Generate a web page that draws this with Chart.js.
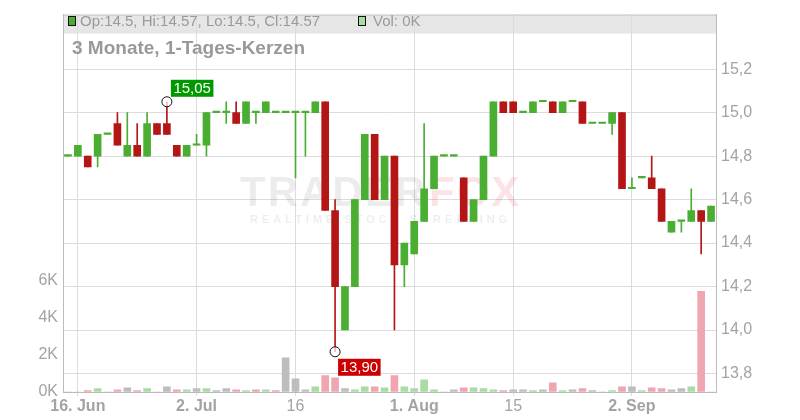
<!DOCTYPE html>
<html lang="de">
<head>
<meta charset="UTF-8">
<script src="https://cdn.jsdelivr.net/npm/chart.js"></script>
<style>
  body { margin: 0; background: #fff; }
  #wrap { width: 800px; height: 420px; position: relative; }
</style>
</head>
<body>
<div id="wrap"><canvas id="chart"></canvas></div>
<script>
// trading days, 13.06. - 12.09.
const days = ['13.06',
  '16.06','17.06','18.06','19.06','20.06', '23.06','24.06','25.06','26.06','27.06',
  '30.06','01.07','02.07','03.07','04.07', '07.07','08.07','09.07','10.07','11.07',
  '14.07','15.07','16.07','17.07','18.07', '21.07','22.07','23.07','24.07','25.07',
  '28.07','29.07','30.07','31.07','01.08', '04.08','05.08','06.08','07.08','08.08',
  '11.08','12.08','13.08','14.08','15.08', '18.08','19.08','20.08','21.08','22.08',
  '25.08','26.08','27.08','28.08','29.08', '01.09','02.09','03.09','04.09','05.09',
  '08.09','09.09','10.09','11.09','12.09'];

const opens = [14.8,
  14.8,14.8,14.8,14.9,14.95, 14.8,14.85,14.8,14.95,14.95,
  14.85,14.8,14.85,14.85,15.0, 15.0,15.0,14.95,15.0,15.0,
  15.0,15.0,15.0,15.0,15.0, 15.05,14.55,14.0,14.2,14.6,
  14.9,14.6,14.8,14.3,14.35, 14.5,14.65,14.8,14.8,14.7,
  14.5,14.6,14.8,15.05,15.05, 15.0,15.0,15.05,15.05,15.0,
  15.05,15.05,14.95,14.95,14.95, 15.0,14.65,14.7,14.7,14.65,
  14.45,14.5,14.5,14.55,14.5];
const highs = [14.8,
  14.85,14.8,14.9,14.9,15.0, 15.0,14.95,15.0,14.95,15.05,
  14.85,14.85,14.9,15.0,15.0, 15.05,15.05,15.05,15.0,15.05,
  15.0,15.0,15.0,15.0,15.05, 15.05,14.6,14.2,14.6,14.9,
  14.9,14.8,14.8,14.4,14.5, 14.95,14.8,14.8,14.8,14.7,
  14.6,14.8,15.05,15.05,15.05, 15.0,15.05,15.05,15.05,15.05,
  15.05,15.05,14.95,14.95,15.0, 15.0,14.7,14.7,14.8,14.65,
  14.5,14.5,14.65,14.55,14.57];
const lows = [14.8,
  14.8,14.75,14.75,14.9,14.85, 14.8,14.8,14.8,14.9,14.9,
  14.8,14.8,14.85,14.8,15.0, 14.95,14.95,14.95,14.95,15.0,
  15.0,15.0,14.7,14.8,15.0, 14.55,13.9,14.0,14.2,14.6,
  14.6,14.6,14.0,14.2,14.35, 14.5,14.65,14.8,14.8,14.5,
  14.5,14.6,14.8,15.0,15.0, 15.0,15.0,15.05,15.0,15.0,
  15.05,14.95,14.95,14.95,14.9, 14.65,14.65,14.7,14.65,14.5,
  14.45,14.45,14.5,14.35,14.5];
const closes = [14.8,
  14.85,14.75,14.9,14.9,14.85, 14.85,14.8,14.95,14.9,14.9,
  14.8,14.85,14.85,15.0,15.0, 15.0,14.95,15.05,15.0,15.05,
  15.0,15.0,15.0,15.0,15.05, 14.55,14.2,14.2,14.6,14.9,
  14.6,14.8,14.3,14.4,14.5, 14.65,14.8,14.8,14.8,14.5,
  14.6,14.8,15.05,15.0,15.0, 15.0,15.05,15.05,15.0,15.05,
  15.05,14.95,14.95,14.95,15.0, 14.65,14.65,14.7,14.65,14.5,
  14.5,14.5,14.55,14.5,14.57];
const volumes = [0,
  0,70,180,0,120, 230,70,180,0,280,
  120,120,180,180,70, 180,120,70,120,120,
  70,1840,710,120,280, 880,770,180,120,280,
  280,230,880,280,180, 660,120,0,120,230,
  230,180,120,70,120, 120,70,120,500,70,
  120,180,70,0,70, 280,280,70,230,180,
  120,180,280,5430,0];

const priceTicks = [13.8, 14.0, 14.2, 14.4, 14.6, 14.8, 15.0, 15.2];
const volumeTicks = [0, 2000, 4000, 6000];
const dateTicks = {'16.06': '16. Jun', '02.07': '2. Jul', '16.07': '16',
                   '01.08': '1. Aug', '15.08': '15', '02.09': '2. Sep'};
const boldTicks = ['16.06', '02.07', '01.08', '02.09'];

const GREEN = '#4aae32', RED = '#b41616';
const VGREEN = '#a8dca2', VRED = '#efa6b0', VGRAY = '#bdbdbd';
const FONT = '"Liberation Sans", Arial, sans-serif';
const TXT = '#a3a3a3';

const candleColor = opens.map((o, i) => closes[i] >= o ? GREEN : RED);
const volColor = closes.map((c, i) => {
    if (i == 0 || c == closes[i-1]) return VGRAY;
    return c > closes[i-1] ? VGREEN : VRED;
});

function fmt(v, d) { return v.toFixed(d).replace('.', ','); }

const decor = {
    id: 'decor',
    beforeDraw(chart) {
        const {ctx, chartArea: a} = chart;
        ctx.save();
        ctx.fillStyle = '#e6e6e6';
        ctx.fillRect(a.left, a.top, a.right - a.left, 19);
        ctx.strokeStyle = '#c4c4c4';
        ctx.lineWidth = 1;
        ctx.beginPath();
        ctx.moveTo(a.left, a.top + 0.5);
        ctx.lineTo(a.right, a.top + 0.5);
        ctx.stroke();
        ctx.restore();
    },
    beforeDatasetsDraw(chart) {
        const {ctx, chartArea: a} = chart;
        ctx.save();
        // watermark
        ctx.textBaseline = 'alphabetic';
        ctx.font = 'bold 42px ' + FONT;
        if ('letterSpacing' in ctx) ctx.letterSpacing = '2px';
        ctx.fillStyle = 'rgba(0,0,0,0.075)';
        ctx.fillText('TRADER', 240, 206);
        const w = ctx.measureText('TRADER').width;
        ctx.fillStyle = 'rgba(235,40,60,0.13)';
        ctx.fillText('FOX', 240 + w + 2, 206);
        ctx.font = 'bold 11px ' + FONT;
        if ('letterSpacing' in ctx) ctx.letterSpacing = '4px';
        ctx.fillStyle = 'rgba(0,0,0,0.07)';
        ctx.fillText('REALTIME STOCK SCREENING', 250, 223);
        if ('letterSpacing' in ctx) ctx.letterSpacing = '0px';

        // legend line
        const n = closes.length - 1;
        ctx.lineWidth = 1;
        ctx.strokeStyle = '#111';
        ctx.fillStyle = candleColor[n];
        ctx.fillRect(68.5, 16.5, 7, 9);
        ctx.strokeRect(68.5, 16.5, 7, 9);
        ctx.fillStyle = VGREEN;
        ctx.fillRect(358.5, 16.5, 7, 9);
        ctx.strokeRect(358.5, 16.5, 7, 9);
        ctx.font = '15px ' + FONT;
        ctx.fillStyle = '#9a9a9a';
        ctx.textBaseline = 'middle';
        ctx.fillText('Op:' + opens[n] + ', Hi:' + highs[n] + ', Lo:' + lows[n] + ', Cl:' + closes[n], 80, 21.5);
        ctx.fillText('Vol: ' + Math.round(volumes[n] / 1000) + 'K', 373, 21.5);

        // title
        ctx.font = 'bold 19px ' + FONT;
        ctx.fillStyle = '#999';
        ctx.textBaseline = 'alphabetic';
        ctx.fillText('3 Monate, 1-Tages-Kerzen', 72, 54);
        ctx.restore();
    },
    afterDatasetsDraw(chart) {
        const {ctx} = chart;
        const xs = chart.scales.x, ys = chart.scales.y;
        const hi = highs.indexOf(Math.max(...highs));
        const lo = lows.indexOf(Math.min(...lows));
        const marks = [
            {i: hi, v: highs[hi], color: '#009a00', dx: 4, dy: -22},
            {i: lo, v: lows[lo], color: '#cc0000', dx: 3, dy: 7},
        ];
        ctx.save();
        for (const m of marks) {
            const x = xs.getPixelForValue(m.i), y = ys.getPixelForValue(m.v);
            ctx.beginPath();
            ctx.arc(x, y, 5, 0, Math.PI * 2);
            ctx.fillStyle = 'rgba(255,255,255,0.7)';
            ctx.fill();
            ctx.strokeStyle = '#111';
            ctx.lineWidth = 1;
            ctx.stroke();
            ctx.font = '15px ' + FONT;
            const t = fmt(m.v, 2);
            const tw = ctx.measureText(t).width;
            ctx.fillStyle = m.color;
            ctx.fillRect(x + m.dx, y + m.dy, tw + 5, 17);
            ctx.fillStyle = '#fff';
            ctx.textBaseline = 'middle';
            ctx.fillText(t, x + m.dx + 2.5, y + m.dy + 9);
        }
        ctx.restore();
    }
};

const gridColor = ctx => dateTicks[days[ctx.index]] ? '#dcdcdc' : 'rgba(0,0,0,0)';

new Chart(document.getElementById('chart'), {
    type: 'bar',
    data: {
        labels: days,
        datasets: [
            {
                label: 'Körper',
                data: opens.map((o, i) => [o, closes[i]]),
                backgroundColor: candleColor,
                barThickness: 7,
                minBarLength: 1.5,
                grouped: false,
                yAxisID: 'y',
                order: 0
            },
            {
                label: 'Docht',
                data: lows.map((l, i) => [l, highs[i]]),
                backgroundColor: candleColor,
                barThickness: 1,
                grouped: false,
                yAxisID: 'y',
                order: 1
            },
            {
                label: 'Volumen',
                data: volumes,
                backgroundColor: volColor,
                barThickness: 7,
                grouped: false,
                yAxisID: 'yv',
                order: 2
            }
        ]
    },
    options: {
        responsive: true,
        maintainAspectRatio: false,
        animation: false,
        layout: { padding: { top: 11 } },
        plugins: { legend: { display: false }, tooltip: { enabled: false } },
        scales: {
            x: {
                offset: true,
                grid: { offset: false, color: gridColor, tickColor: gridColor, tickLength: 4 },
                border: { color: '#bbb' },
                ticks: {
                    autoSkip: false,
                    maxRotation: 0,
                    padding: 1,
                    color: TXT,
                    callback: (v, i) => dateTicks[days[i]] || '',
                    font: ctx => ({ family: FONT, size: 16,
                        weight: boldTicks.includes(days[ctx.index]) ? 'bold' : 'normal' })
                },
                afterFit: s => { s.height = 28; }
            },
            y: {
                position: 'right',
                min: 13.715,
                max: 15.451,
                afterBuildTicks: s => { s.ticks = priceTicks.map(v => ({ value: v })); },
                grid: { color: '#dcdcdc', drawTicks: false },
                border: { color: '#bbb' },
                ticks: { padding: 5, color: TXT, font: { family: FONT, size: 16 },
                         callback: v => fmt(v, 1) },
                afterFit: s => { s.width = 84; }
            },
            yv: {
                position: 'left',
                min: 0,
                max: 20350,
                afterBuildTicks: s => { s.ticks = volumeTicks.map(v => ({ value: v })); },
                grid: { drawOnChartArea: false, drawTicks: false },
                border: { color: '#bbb' },
                ticks: { padding: 5, color: TXT, font: { family: FONT, size: 16 },
                         callback: v => (v / 1000) + 'K' },
                afterFit: s => { s.width = 63; }
            }
        }
    },
    plugins: [decor]
});
</script>
</body>
</html>
